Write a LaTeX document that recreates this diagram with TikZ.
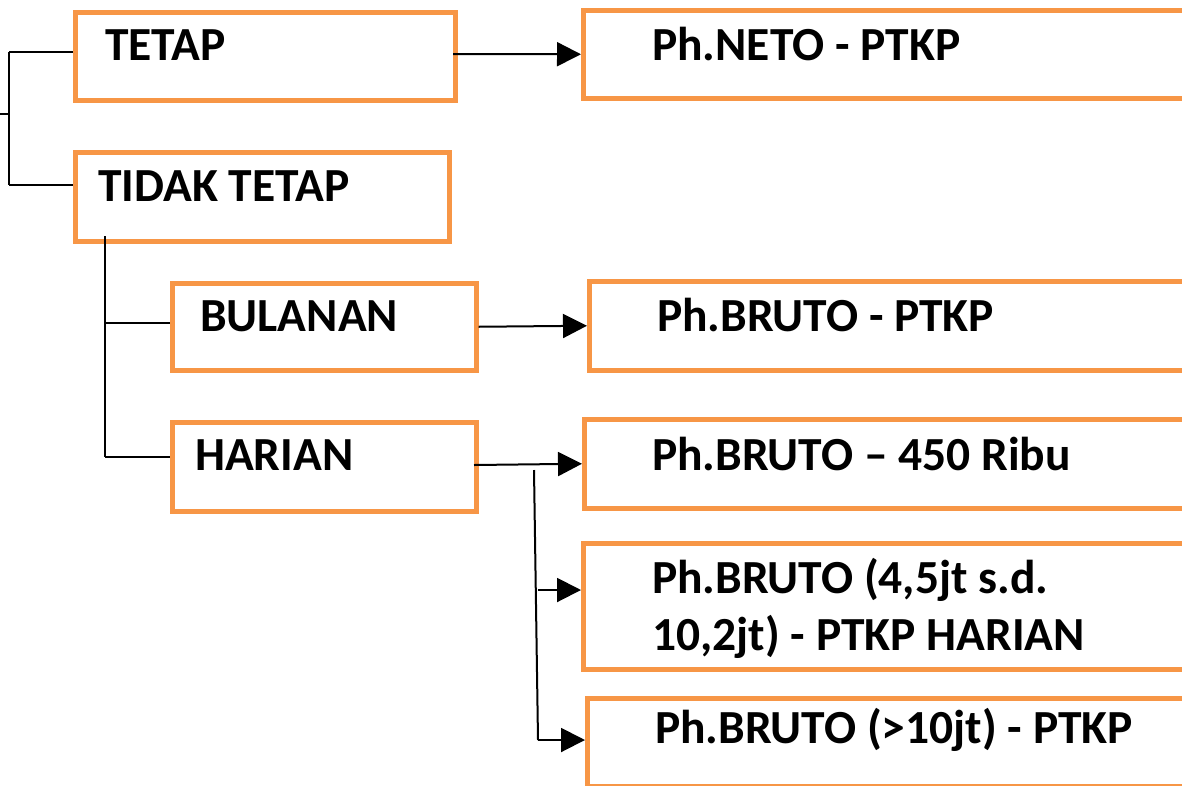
\documentclass[tikz,border=0pt]{standalone}
\usepackage{fontspec}
\setmainfont{Carlito}
\usetikzlibrary{arrows.meta}
\definecolor{boxorange}{HTML}{F79646}
\tikzset{
  obox/.style={draw=boxorange, line width=4.5pt, rectangle, inner sep=0pt, anchor=north west},
  lbl/.style={anchor=base west, inner sep=0pt, font=\fontsize{47.5}{56}\selectfont\bfseries},
  conn/.style={line width=2pt, black},
  arr/.style={conn, -{Triangle[length=24pt,width=24pt]}}
}
\begin{document}
\begin{tikzpicture}[x=1pt,y=-1pt]
\useasboundingbox (0,0) rectangle (1182,785);
\clip (0,0) rectangle (1182,785);
% left boxes
\node[obox, minimum width=380pt, minimum height=88pt] (tetap) at (73,10) {};
\node[obox, minimum width=374pt, minimum height=89pt] (tidak) at (73,150) {};
\node[obox, minimum width=304pt, minimum height=87pt] (bulanan) at (170,281) {};
\node[obox, minimum width=304pt, minimum height=89pt] (harian) at (170,420) {};
% right boxes (extend past the right edge)
\node[obox, minimum width=700pt, minimum height=88pt] (neto) at (581,8) {};
\node[obox, minimum width=700pt, minimum height=89pt] (brutoptkp) at (587,279) {};
\node[obox, minimum width=700pt, minimum height=89pt] (bruto450) at (582,417) {};
\node[obox, minimum width=700pt, minimum height=126pt] (bruto45) at (581,541) {};
\node[obox, minimum width=700pt, minimum height=88pt] (bruto10) at (585,696) {};
% labels
\node[lbl] (ttetap) at (105,60) {TETAP};
\node[lbl] (ttidak) at (98,201) {TIDAK TETAP};
\node[lbl] (tbul) at (200,331) {BULANAN};
\node[lbl] (thar) at (195,470) {HARIAN};
\node[lbl] (tneto) at (652,60) {Ph.NETO - PTKP};
\node[lbl] (tbp) at (657,331) {Ph.BRUTO - PTKP};
\node[lbl] (tb450) at (652,470) {Ph.BRUTO – 450 Ribu};
\node[lbl] (tb45a) at (652,593) {Ph.BRUTO (4,5jt s.d.};
\node[lbl] (tb45b) at (652,650) {10,2jt) - PTKP HARIAN};
\node[lbl] (tb10) at (655,743) {Ph.BRUTO (>10jt) - PTKP};
% coordinates for connectors
\coordinate (stub) at (0,114);
\coordinate (brk) at (9,114);
\coordinate (brtop) at (9,52);
\coordinate (brbot) at (9,185);
\coordinate (vtop) at (105,236);
\coordinate (vbul) at (105,323);
\coordinate (vhar) at (105,457);
\coordinate (htop) at (534,470);
\coordinate (hmid) at (538,590);
\coordinate (hbot) at (538,740);
% left bracket
\draw[conn] (stub) -- (brk);
\draw[conn] (brtop) -- (brbot);
\draw[conn] (brtop) -- (tetap.west |- brtop);
\draw[conn] (brbot) -- (tidak.west |- brbot);
% tidak tetap branch
\draw[conn] (vtop) -- (vhar);
\draw[conn] (vbul) -- (bulanan.west |- vbul);
\draw[conn] (vhar) -- (harian.west |- vhar);
% arrows
\draw[arr] (453,54) -- (neto.west);
\draw[arr] (bulanan.east) -- (brutoptkp.west);
\draw[arr] (474,465) -- (bruto450.west);
\draw[conn] (htop) -- (hbot);
\draw[arr] (hmid) -- (bruto45.west |- hmid);
\draw[arr] (hbot) -- (bruto10.west |- hbot);
\end{tikzpicture}
\end{document}
